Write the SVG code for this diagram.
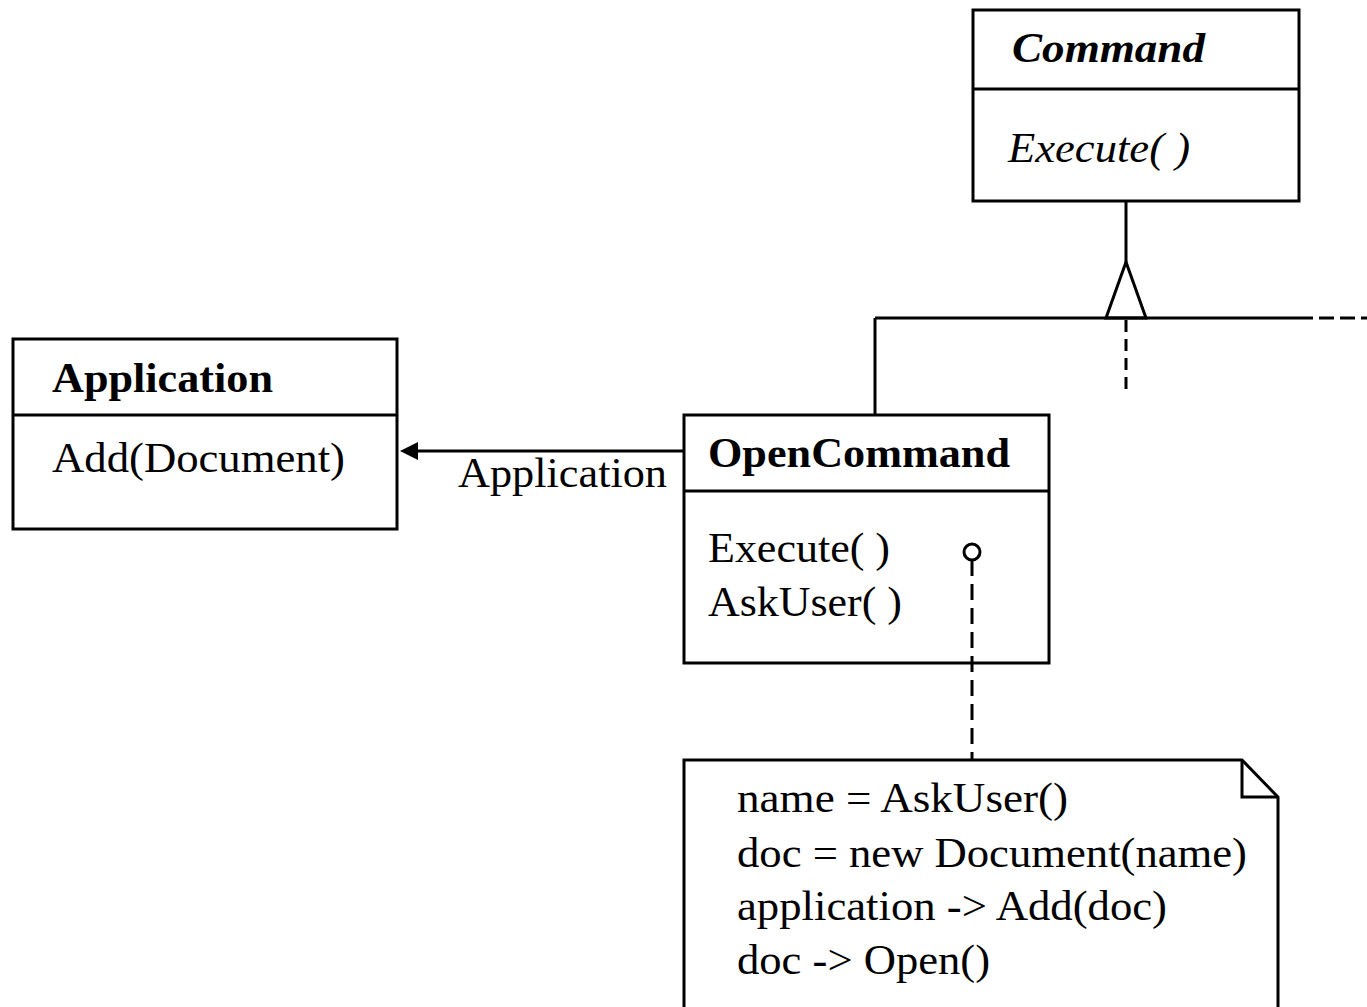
<svg xmlns="http://www.w3.org/2000/svg" width="1367" height="1007" viewBox="0 0 1367 1007">
<style>
.box{fill:#fff;stroke:#000;stroke-width:3}
.ln{fill:none;stroke:#000;stroke-width:3}
.dash{fill:none;stroke:#000;stroke-width:3;stroke-dasharray:12 7}
text{font-family:"Liberation Serif","Times New Roman",serif;font-size:42px;fill:#000}
.b{font-weight:bold}
.i{font-style:italic}
</style>
<rect width="1367" height="1007" fill="#fff"/>
<g id="command">
<rect class="box" x="973" y="10" width="326" height="191"/>
<line class="ln" x1="973" y1="89" x2="1299" y2="89"/>
<text class="b i" x="1012" y="62" textLength="193" lengthAdjust="spacingAndGlyphs">Command</text>
<text class="i" x="1008" y="162" textLength="182" lengthAdjust="spacingAndGlyphs">Execute( )</text>
</g>
<g id="application">
<rect class="box" x="13" y="339" width="384" height="190"/>
<line class="ln" x1="13" y1="415" x2="397" y2="415"/>
<text class="b" x="52" y="392" textLength="221" lengthAdjust="spacingAndGlyphs">Application</text>
<text x="52" y="472" textLength="293" lengthAdjust="spacingAndGlyphs">Add(Document)</text>
</g>
<g id="opencommand">
<rect class="box" x="684" y="415" width="365" height="248"/>
<line class="ln" x1="684" y1="491" x2="1049" y2="491"/>
<text class="b" x="708" y="467" textLength="302" lengthAdjust="spacingAndGlyphs">OpenCommand</text>
<text x="708" y="562" textLength="182" lengthAdjust="spacingAndGlyphs">Execute( )</text>
<text x="708" y="616" textLength="194" lengthAdjust="spacingAndGlyphs">AskUser( )</text>
</g>
<g id="note">
<path class="box" d="M684,1012 V760 H1242 L1278,797 V1012"/>
<path class="ln" d="M1242,760 V797 H1278"/>
<text x="737" y="812" textLength="331" lengthAdjust="spacingAndGlyphs">name = AskUser()</text>
<text x="737" y="867" textLength="510" lengthAdjust="spacingAndGlyphs">doc = new Document(name)</text>
<text x="737" y="920" textLength="430" lengthAdjust="spacingAndGlyphs">application -&gt; Add(doc)</text>
<text x="737" y="974" textLength="253" lengthAdjust="spacingAndGlyphs">doc -&gt; Open()</text>
</g>
<g id="connectors">
<line class="ln" x1="1126" y1="200" x2="1126" y2="262"/>
<polygon class="box" points="1126,262 1106,318 1146,318"/>
<line class="ln" x1="875" y1="318" x2="1313" y2="318"/>
<line class="dash" x1="1319" y1="318" x2="1367" y2="318" style="stroke-dasharray:15 6"/>
<line class="ln" x1="875" y1="318" x2="875" y2="415"/>
<line class="dash" x1="1126" y1="320" x2="1126" y2="395"/>
<line class="ln" x1="416" y1="451" x2="683" y2="451"/>
<polygon points="400,451 418,442 418,460" fill="#000"/>
<text x="458" y="487" textLength="209" lengthAdjust="spacingAndGlyphs">Application</text>
<circle cx="972" cy="552" r="8" class="ln"/>
<line class="dash" x1="972" y1="560" x2="972" y2="759" style="stroke-dasharray:16 8"/>
</g>
</svg>
